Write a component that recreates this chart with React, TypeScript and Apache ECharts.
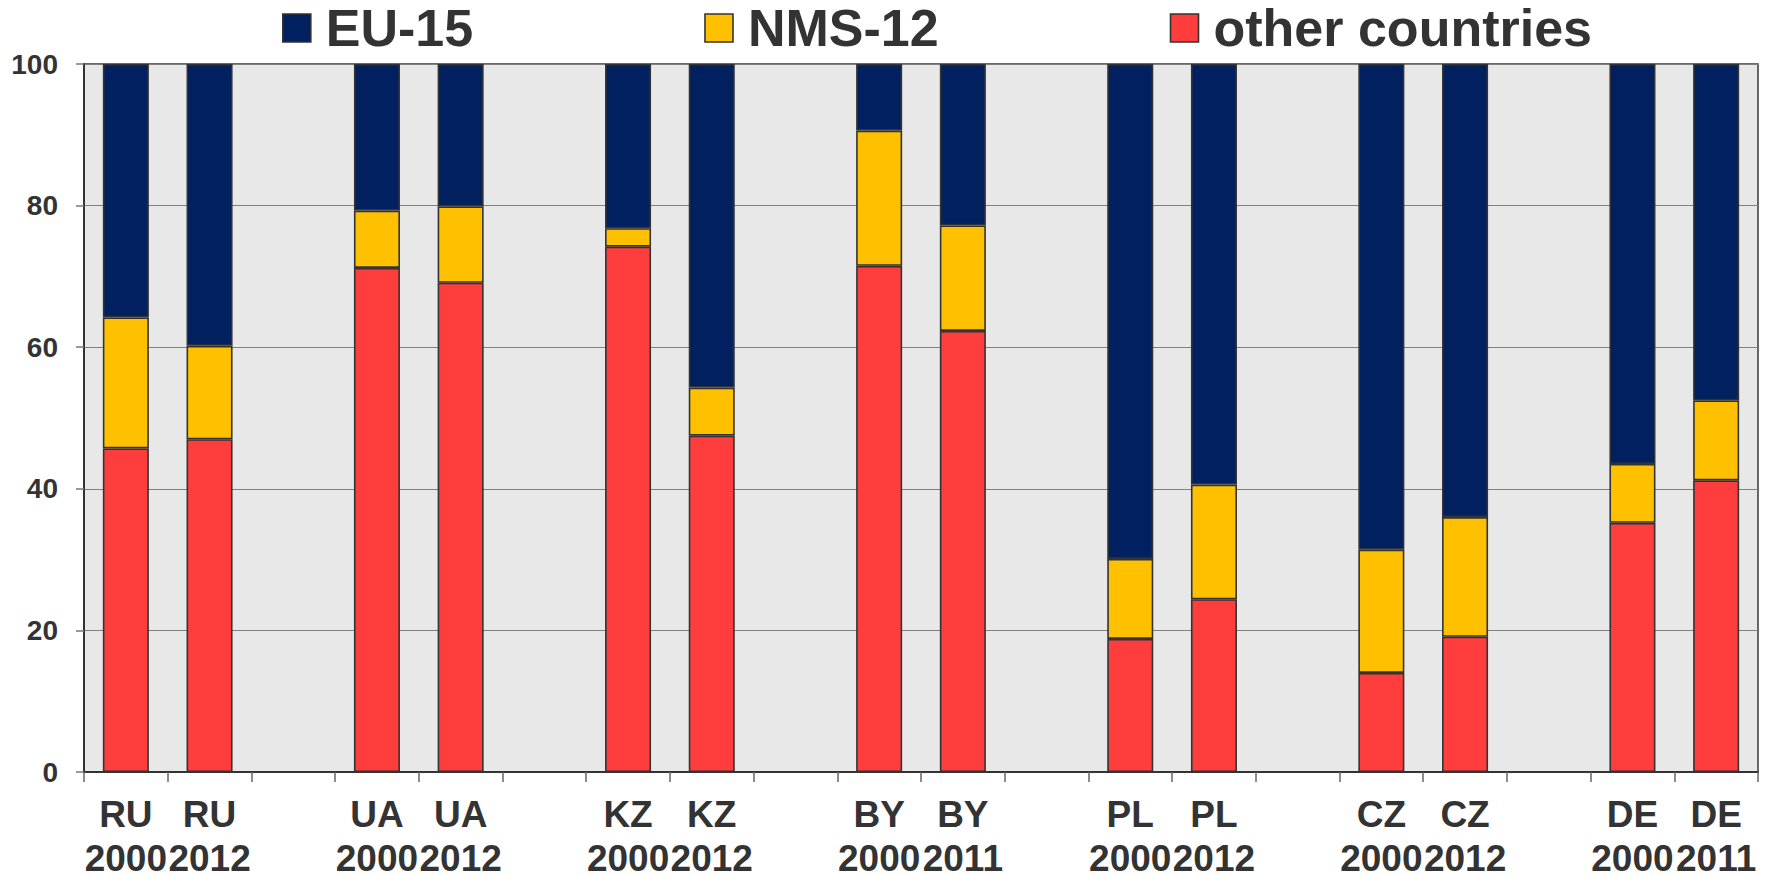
import React, { useEffect, useRef } from "react";
import * as echarts from "echarts";

// Country / year slots; empty strings are spacer slots between countries
const categories: string[] = [
  "RU\n2000", "RU\n2012", "",
  "UA\n2000", "UA\n2012", "",
  "KZ\n2000", "KZ\n2012", "",
  "BY\n2000", "BY\n2011", "",
  "PL\n2000", "PL\n2012", "",
  "CZ\n2000", "CZ\n2012", "",
  "DE\n2000", "DE\n2011",
];

// Shares in percent (null = spacer slot)
const otherCountries: (number | null)[] = [
  45.7, 47.0, null,
  71.2, 69.1, null,
  74.2, 47.5, null,
  71.5, 62.3, null,
  18.8, 24.4, null,
  14.0, 19.1, null,
  35.2, 41.2,
];
const nms12: (number | null)[] = [
  18.5, 13.2, null,
  8.1, 10.8, null,
  2.6, 6.8, null,
  19.1, 14.9, null,
  11.3, 16.2, null,
  17.4, 16.9, null,
  8.3, 11.3,
];
const eu15: (number | null)[] = [
  35.8, 39.8, null,
  20.7, 20.1, null,
  23.2, 45.7, null,
  9.4, 22.8, null,
  69.9, 59.4, null,
  68.6, 64.0, null,
  56.5, 47.5,
];

const legendNames = ["EU-15", "NMS-12", "other countries"];
const yTicks = { min: 0, max: 100, interval: 20 };

const FONT = '"Liberation Sans", Arial, Helvetica, sans-serif';
const TEXT = "#333333";
const EDGE = "#333333";

export default function App() {
  const ref = useRef<HTMLDivElement>(null);

  useEffect(() => {
    if (!ref.current) return;
    const chart = echarts.init(ref.current, undefined, { renderer: "svg" });

    const barStyle = (color: string) => ({
      color,
      borderColor: EDGE,
      borderWidth: 1.6,
    });

    chart.setOption({
      animation: false,
      backgroundColor: "#ffffff",
      legend: {
        data: legendNames,
        icon: "rect",
        left: 282,
        top: 0,
        padding: 0,
        itemWidth: 28,
        itemHeight: 28,
        itemGap: 231,
        itemStyle: { borderColor: EDGE, borderWidth: 1.6 },
        textStyle: {
          fontFamily: FONT,
          fontSize: 52,
          fontWeight: "bold",
          color: TEXT,
          lineHeight: 56,
          padding: [0, 0, 0, 10],
        },
      },
      grid: {
        left: 84,
        right: 11,
        top: 64,
        bottom: 105,
        containLabel: false,
        outerBoundsMode: "none",
        show: true,
        backgroundColor: "#e8e8e8",
        borderColor: "#3a3a3a",
        borderWidth: 1.5,
      },
      xAxis: {
        type: "category",
        data: categories,
        boundaryGap: true,
        axisLine: { lineStyle: { color: EDGE, width: 2 } },
        axisTick: {
          show: true,
          interval: 0,
          length: 10,
          lineStyle: { color: "#666666", width: 1.5 },
        },
        axisLabel: {
          interval: 0,
          margin: 20,
          fontFamily: FONT,
          fontSize: 37,
          fontWeight: "bold",
          color: TEXT,
          lineHeight: 44,
        },
      },
      yAxis: {
        type: "value",
        min: yTicks.min,
        max: yTicks.max,
        interval: yTicks.interval,
        axisLine: { show: true, lineStyle: { color: EDGE, width: 2 } },
        axisTick: { show: true, length: 8, lineStyle: { color: "#777777", width: 1.5 } },
        axisLabel: {
          margin: 26,
          fontFamily: FONT,
          fontSize: 28,
          fontWeight: "bold",
          color: TEXT,
        },
        splitLine: { show: true, lineStyle: { color: "#808080", width: 1.2 } },
      },
      series: [
        {
          name: "other countries",
          type: "bar",
          stack: "share",
          barWidth: "55%",
          data: otherCountries,
          itemStyle: barStyle("#ff3d3d"),
        },
        {
          name: "NMS-12",
          type: "bar",
          stack: "share",
          barWidth: "55%",
          data: nms12,
          itemStyle: barStyle("#ffc000"),
        },
        {
          name: "EU-15",
          type: "bar",
          stack: "share",
          barWidth: "55%",
          data: eu15,
          itemStyle: barStyle("#002060"),
        },
      ],
    });

    return () => chart.dispose();
  }, []);

  return (
    <div
      ref={ref}
      style={{ position: "fixed", left: 0, top: 0, width: 1769, height: 877 }}
    />
  );
}
